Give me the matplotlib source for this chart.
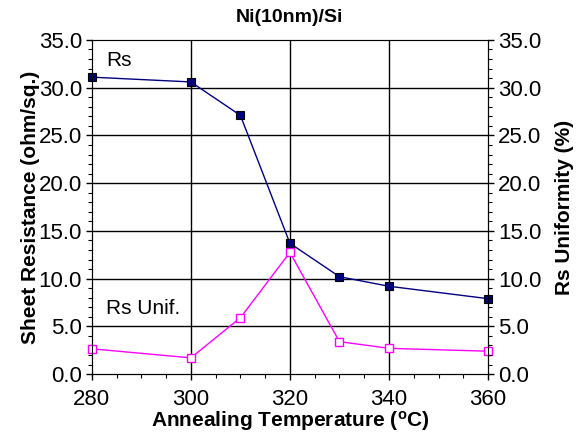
import matplotlib
matplotlib.use("Agg")
import matplotlib.pyplot as plt
from matplotlib.ticker import MultipleLocator, FormatStrFormatter

plt.rcParams['font.family'] = ['Liberation Sans', 'DejaVu Sans']
plt.rcParams['mathtext.fontset'] = 'custom'
plt.rcParams['mathtext.bf'] = 'Liberation Sans:bold'
plt.rcParams['mathtext.rm'] = 'Liberation Sans'

temps = [280, 300, 310, 320, 330, 340, 360]
rs = [31.1, 30.6, 27.1, 13.7, 10.2, 9.2, 7.9]
rs_unif = [2.65, 1.7, 5.9, 12.75, 3.4, 2.7, 2.4]

fig = plt.figure(figsize=(5.81, 4.34), dpi=100)
ax = fig.add_axes([0.158, 0.138, 0.682, 0.77])
ax2 = ax.twinx()

ax.plot(temps, rs, color='#000080', lw=1, marker='s', ms=6,
        mfc='#000080', mec='black', mew=0.8, clip_on=False, zorder=5)
ax.plot(temps, rs_unif, color='magenta', lw=1, marker='s', ms=6,
        mfc='white', mec='magenta', mew=1, clip_on=False, zorder=5)

ax.set_xlim(280, 360)
ax.set_ylim(0, 35)
ax2.set_ylim(0, 35)

ax.xaxis.set_major_locator(MultipleLocator(20))
ax.xaxis.set_minor_locator(MultipleLocator(5))
for a in (ax, ax2):
    a.yaxis.set_major_locator(MultipleLocator(5))
    a.yaxis.set_minor_locator(MultipleLocator(1))
    a.yaxis.set_major_formatter(FormatStrFormatter('%.1f'))
    a.tick_params(which='major', length=4, width=1, labelsize=16, direction='out')
    a.tick_params(which='minor', length=3, width=0.8, direction='out')
ax.tick_params(axis='x', which='major', pad=7)
ax.tick_params(axis='y', which='major', pad=3)
ax2.tick_params(axis='y', which='major', pad=3)

for x in [300, 320, 340]:
    ax.axvline(x, color='black', lw=1, zorder=1)
for y in range(5, 35, 5):
    ax.axhline(y, color='black', lw=1, zorder=1)

ax.spines['top'].set_color('#888888')

ax.set_xlabel('Annealing Temperature ($\\mathbf{{}^{o}}$C)', fontsize=15, fontweight='bold')
ax.xaxis.set_label_coords(0.5, -0.105)
ax.set_ylabel('Sheet Resistance (ohm/sq.)', fontsize=15, fontweight='bold', labelpad=-1)
ax2.set_ylabel('Rs Uniformity (%)', fontsize=15, fontweight='bold', labelpad=10)
ax.set_title('Ni(10nm)/Si', fontsize=14, fontweight='bold', pad=13)

ax.text(285.5, 32.8, 'Rs', fontsize=15, ha='center', va='center')
ax.text(282.8, 6.9, 'Rs Unif.', fontsize=15, ha='left', va='center')

fig.savefig('out.png', dpi=100)
